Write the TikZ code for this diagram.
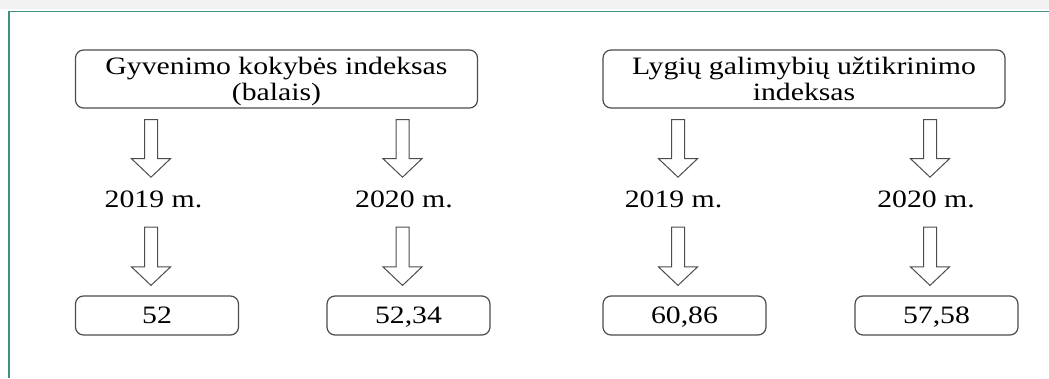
\documentclass[tikz,border=0pt]{standalone}
\usepackage{fontspec}
\setmainfont{Liberation Serif}[FakeStretch=1.19]
\usetikzlibrary{calc}
\definecolor{framegreen}{RGB}{64,146,128}
\definecolor{bandgray}{RGB}{242,242,242}
\newcommand{\hollowarrow}[4]{\draw[hollow] let \p1=(#1), \p2=(#2) in (\x1-6.5pt,\y1-#3) -- (\x1-6.5pt,\y2+#4+18.5pt) -- (\x1-19.5pt,\y2+#4+18.5pt) -- (\x1,\y2+#4) -- (\x1+19.5pt,\y2+#4+18.5pt) -- (\x1+6.5pt,\y2+#4+18.5pt) -- (\x1+6.5pt,\y1-#3) -- cycle;}
\tikzset{
  databox/.style={draw=black!70, line width=1.2pt, rounded corners=8pt, inner sep=0pt, align=center, text depth=0pt, font=\fontsize{25}{26.5}\selectfont},
  yearlbl/.style={inner sep=0pt, anchor=base, font=\fontsize{25}{26.5}\selectfont},
  hollow/.style={draw=black!70, line width=1pt, fill=white, line join=miter},
}
\begin{document}
\begin{tikzpicture}[x=1pt, y=-1pt]
        \useasboundingbox (0,0) rectangle (1049,378);
        % frame
        \fill[bandgray] (0,0) rectangle (1049,9);
        \draw[framegreen, line width=1.5pt] (9,378) -- (9,11.5) -- (1049,11.5);

        % columns
        \coordinate (c1) at (151,0);
        \coordinate (c2) at (402.5,0);
        \coordinate (c3) at (678,0);
        \coordinate (c4) at (930,0);

        % top
        \node[databox, minimum width=402pt, minimum height=58pt] (gk) at (276.5,79) {Gyvenimo kokybės indeksas\\(balais)};
        \node[databox, minimum width=402pt, minimum height=58pt] (lg) at (804,79) {Lygių galimybių užtikrinimo\\indeksas};

        % years
        \node[yearlbl] (y1) at (153.5,207) {2019 m.};
        \node[yearlbl] (y2) at (404,207) {2020 m.};
        \node[yearlbl] (y3) at (673.5,207) {2019 m.};
        \node[yearlbl] (y4) at (926,207) {2020 m.};

        % values
        \node[databox, minimum width=163pt, minimum height=39pt] (v1) at (157,315.5) {52};
        \node[databox, minimum width=163pt, minimum height=39pt] (v2) at (408.5,315.5) {52,34};
        \node[databox, minimum width=163pt, minimum height=39pt] (v3) at (684.5,315.5) {60,86};
        \node[databox, minimum width=163pt, minimum height=39pt] (v4) at (936.5,315.5) {57,58};

        % arrows
        \hollowarrow{gk.south -| c1}{y1.north -| c1}{11pt}{13pt}
        \hollowarrow{gk.south -| c2}{y2.north -| c2}{11pt}{13pt}
        \hollowarrow{lg.south -| c3}{y3.north -| c3}{11pt}{13pt}
        \hollowarrow{lg.south -| c4}{y4.north -| c4}{11pt}{13pt}

        \hollowarrow{y1.base -| c1}{v1.north -| c1}{20pt}{10pt}
        \hollowarrow{y2.base -| c2}{v2.north -| c2}{20pt}{10pt}
        \hollowarrow{y3.base -| c3}{v3.north -| c3}{20pt}{10pt}
        \hollowarrow{y4.base -| c4}{v4.north -| c4}{20pt}{10pt}
\end{tikzpicture}
\end{document}
